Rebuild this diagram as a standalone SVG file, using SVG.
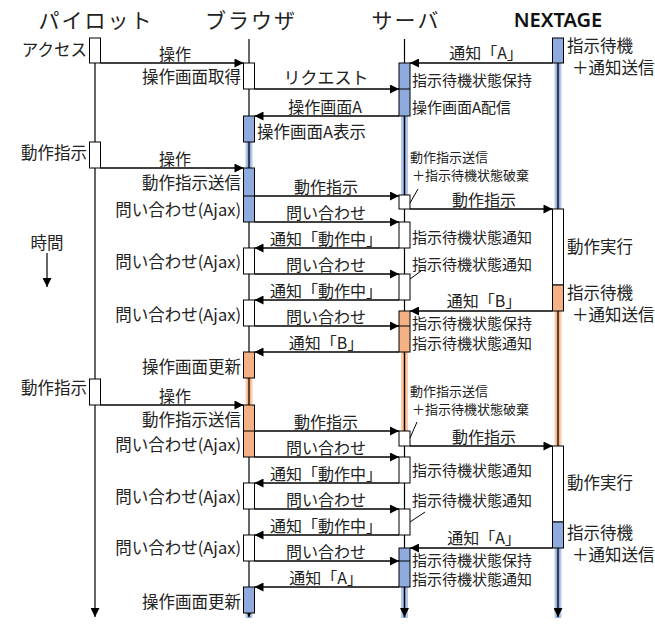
<svg xmlns="http://www.w3.org/2000/svg" width="655" height="628" viewBox="0 0 655 628">
<defs>
<marker id="ah" viewBox="0 0 10 10" refX="10" refY="5" markerWidth="10" markerHeight="9" markerUnits="userSpaceOnUse" orient="auto">
<path d="M0,0 L10,5 L0,10 z" fill="#000"/>
</marker>
<style>
text{font-family:"Noto Sans CJK JP","Noto Sans",sans-serif;fill:#222}
.t{font-size:21px;letter-spacing:2px;text-anchor:middle}
.nx{font-family:"Noto Sans","Open Sans",sans-serif;font-weight:600;font-size:20px;text-anchor:middle;fill:#111}
.l{font-size:16px}
.m{font-size:16px;text-anchor:middle}
.r{font-size:16.5px;text-anchor:end}
.s{font-size:15px}
.xs{font-size:13px}
.n{font-size:16.5px}
.life{stroke:#000;stroke-width:1.2;fill:none}
.msg{stroke:#000;stroke-width:1.3;fill:none;marker-end:url(#ah)}
.w{fill:#fff;stroke:#000;stroke-width:1}
.b{fill:#8faadc;stroke:#000;stroke-width:1}
.o{fill:#f4b183;stroke:#000;stroke-width:1}
.div{stroke:#000;stroke-width:1}
.hb1{stroke:#b4c7e7;stroke-width:7}
.hb2{stroke:#7f9bd6;stroke-width:3}
.ho1{stroke:#f8cbad;stroke-width:7}
.ho2{stroke:#f0a26e;stroke-width:3}
.thin{stroke:#000;stroke-width:1}
</style>
</defs>
<rect width="655" height="628" fill="#fff"/>

<!-- highlights on lifelines -->
<g id="highlights">
<line class="hb1" x1="249" y1="142" x2="249" y2="168"/><line class="hb2" x1="249" y1="142" x2="249" y2="168"/>
<line class="ho1" x1="249" y1="378" x2="249" y2="405"/><line class="ho2" x1="249" y1="378" x2="249" y2="405"/>
<line class="hb1" x1="249" y1="613" x2="249" y2="618"/><line class="hb2" x1="249" y1="613" x2="249" y2="618"/>
<line class="hb1" x1="404.5" y1="116" x2="404.5" y2="195"/><line class="hb2" x1="404.5" y1="116" x2="404.5" y2="195"/>
<line class="ho1" x1="404.5" y1="352" x2="404.5" y2="431"/><line class="ho2" x1="404.5" y1="352" x2="404.5" y2="431"/>
<line class="hb1" x1="404.5" y1="587" x2="404.5" y2="618"/><line class="hb2" x1="404.5" y1="587" x2="404.5" y2="618"/>
<line class="hb1" x1="558" y1="63" x2="558" y2="209"/><line class="hb2" x1="558" y1="63" x2="558" y2="209"/>
<line class="ho1" x1="558" y1="311" x2="558" y2="446"/><line class="ho2" x1="558" y1="311" x2="558" y2="446"/>
<line class="hb1" x1="558" y1="548" x2="558" y2="618"/><line class="hb2" x1="558" y1="548" x2="558" y2="618"/>
</g>

<g id="pilot">
<text class="t" x="96" y="28">パイロット</text>
<line class="life" x1="95" y1="63" x2="95" y2="617" marker-end="url(#ah)"/>
<rect class="w" x="89.5" y="38" width="11" height="25"/>
<rect class="w" x="89.5" y="142" width="11" height="26"/>
<rect class="w" x="89.5" y="379" width="11" height="26"/>
<text class="r" x="87" y="56">アクセス</text>
<text class="r" x="87" y="159">動作指示</text>
<text class="r" x="87" y="394">動作指示</text>
</g>

<g id="time">
<text class="m" x="47" y="249" style="font-size:16.5px">時間</text>
<line class="life" x1="47" y1="253" x2="47" y2="287" marker-end="url(#ah)"/>
</g>

<g id="browser">
<text class="t" x="251" y="28">ブラウザ</text>
<line class="life" x1="249" y1="39" x2="249" y2="617" marker-end="url(#ah)"/>
<rect class="w" x="243.5" y="63" width="11" height="26"/>
<rect class="b" x="243.5" y="116" width="11" height="26"/>
<rect class="b" x="243.5" y="168" width="11" height="54"/><line class="div" x1="243.5" y1="196" x2="254.5" y2="196"/>
<rect class="w" x="243.5" y="248" width="11" height="26"/>
<rect class="w" x="243.5" y="300" width="11" height="26"/>
<rect class="o" x="243.5" y="352" width="11" height="26"/>
<rect class="o" x="243.5" y="405" width="11" height="52"/><line class="div" x1="243.5" y1="431" x2="254.5" y2="431"/>
<rect class="w" x="243.5" y="483" width="11" height="26"/>
<rect class="w" x="243.5" y="535" width="11" height="26"/>
<rect class="b" x="243.5" y="587" width="11" height="26"/>
<text class="r" x="241" y="83">操作画面取得</text>
<text class="l" x="257" y="138" style="font-size:16.5px">操作画面A表示</text>
<text class="r" x="241" y="189">動作指示送信</text>
<text class="r" x="241" y="216">問い合わせ(Ajax)</text>
<text class="r" x="241" y="268">問い合わせ(Ajax)</text>
<text class="r" x="241" y="321">問い合わせ(Ajax)</text>
<text class="r" x="241" y="373">操作画面更新</text>
<text class="r" x="241" y="426">動作指示送信</text>
<text class="r" x="241" y="451">問い合わせ(Ajax)</text>
<text class="r" x="241" y="503">問い合わせ(Ajax)</text>
<text class="r" x="241" y="554">問い合わせ(Ajax)</text>
<text class="r" x="241" y="608">操作画面更新</text>
</g>

<g id="server">
<text class="t" x="406" y="28">サーバ</text>
<line class="life" x1="404.5" y1="39" x2="404.5" y2="617" marker-end="url(#ah)"/>
<rect class="b" x="399" y="63" width="11" height="53"/><line class="div" x1="399" y1="89" x2="410" y2="89"/>
<rect class="w" x="399" y="195" width="11" height="14"/>
<rect class="w" x="399" y="222" width="11" height="26"/>
<rect class="w" x="399" y="274" width="11" height="26"/>
<rect class="o" x="399" y="311" width="11" height="41"/><line class="div" x1="399" y1="326" x2="410" y2="326"/>
<rect class="w" x="399" y="431" width="11" height="15"/>
<rect class="w" x="399" y="457" width="11" height="26"/>
<rect class="w" x="399" y="509" width="11" height="26"/>
<rect class="b" x="399" y="548" width="11" height="39"/><line class="div" x1="399" y1="561" x2="410" y2="561"/>
<text class="s" x="412" y="86">指示待機状態保持</text>
<text class="s" x="412" y="113">操作画面A配信</text>
<text class="xs" x="410" y="162">動作指示送信</text>
<text class="xs" x="412" y="180">＋指示待機状態破棄</text>
<line class="thin" x1="410" y1="203" x2="418" y2="189"/>
<text class="s" x="412" y="243">指示待機状態通知</text>
<text class="s" x="412" y="270">指示待機状態通知</text>
<line class="thin" x1="410" y1="279" x2="421" y2="271"/>
<text class="s" x="412" y="329">指示待機状態保持</text>
<text class="s" x="412" y="349">指示待機状態通知</text>
<text class="xs" x="410" y="396">動作指示送信</text>
<text class="xs" x="412" y="414">＋指示待機状態破棄</text>
<line class="thin" x1="410" y1="438" x2="417" y2="422"/>
<text class="s" x="412" y="476">指示待機状態通知</text>
<text class="s" x="412" y="506">指示待機状態通知</text>
<line class="thin" x1="410" y1="522" x2="425" y2="512"/>
<text class="s" x="412" y="566">指示待機状態保持</text>
<text class="s" x="412" y="585">指示待機状態通知</text>
</g>

<g id="nextage">
<text class="nx" x="558" y="27">NEXTAGE</text>
<line class="life" x1="558" y1="63" x2="558" y2="617" marker-end="url(#ah)"/>
<rect class="b" x="552.5" y="38" width="11" height="25"/>
<rect class="w" x="552.5" y="209" width="11" height="76"/>
<rect class="o" x="552.5" y="285" width="11" height="26"/>
<rect class="w" x="552.5" y="446" width="11" height="76"/>
<rect class="b" x="552.5" y="522" width="11" height="26"/>
<text class="n" x="567" y="52">指示待機</text>
<text class="n" x="572" y="74">＋通知送信</text>
<text class="n" x="567" y="253">動作実行</text>
<text class="n" x="567" y="299">指示待機</text>
<text class="n" x="572" y="321">＋通知送信</text>
<text class="n" x="567" y="489">動作実行</text>
<text class="n" x="567" y="539">指示待機</text>
<text class="n" x="572" y="561">＋通知送信</text>
</g>

<g id="connectors">
<line class="msg" x1="100.5" y1="63" x2="243.5" y2="63"/>
<line class="msg" x1="254.5" y1="89" x2="399" y2="89"/>
<line class="msg" x1="552.5" y1="63" x2="410" y2="63"/>
<line class="msg" x1="399" y1="116" x2="254.5" y2="116"/>
<line class="msg" x1="100.5" y1="168" x2="243.5" y2="168"/>
<line class="msg" x1="254.5" y1="196" x2="399" y2="196"/>
<line class="msg" x1="410" y1="209" x2="552.5" y2="209"/>
<line class="msg" x1="254.5" y1="222" x2="399" y2="222"/>
<line class="msg" x1="399" y1="248" x2="254.5" y2="248"/>
<line class="msg" x1="254.5" y1="274" x2="399" y2="274"/>
<line class="msg" x1="399" y1="300" x2="254.5" y2="300"/>
<line class="msg" x1="552.5" y1="311" x2="410" y2="311"/>
<line class="msg" x1="254.5" y1="326" x2="399" y2="326"/>
<line class="msg" x1="399" y1="352" x2="254.5" y2="352"/>
<line class="msg" x1="100.5" y1="405" x2="243.5" y2="405"/>
<line class="msg" x1="254.5" y1="431" x2="399" y2="431"/>
<line class="msg" x1="410" y1="446" x2="552.5" y2="446"/>
<line class="msg" x1="254.5" y1="457" x2="399" y2="457"/>
<line class="msg" x1="399" y1="483" x2="254.5" y2="483"/>
<line class="msg" x1="254.5" y1="509" x2="399" y2="509"/>
<line class="msg" x1="399" y1="535" x2="254.5" y2="535"/>
<line class="msg" x1="552.5" y1="548" x2="410" y2="548"/>
<line class="msg" x1="254.5" y1="561" x2="399" y2="561"/>
<line class="msg" x1="399" y1="587" x2="254.5" y2="587"/>
</g>

<g id="connector-labels">
<text class="m" x="175" y="60">操作</text>
<text class="m" x="326" y="84" style="font-size:17px">リクエスト</text>
<text class="m" x="486" y="59">通知「A」</text>
<text class="m" x="325" y="113">操作画面A</text>
<text class="m" x="175" y="165">操作</text>
<text class="m" x="326" y="193">動作指示</text>
<text class="m" x="484" y="206">動作指示</text>
<text class="m" x="326" y="219">問い合わせ</text>
<text class="m" x="326" y="245">通知「動作中」</text>
<text class="m" x="326" y="271">問い合わせ</text>
<text class="m" x="326" y="297">通知「動作中」</text>
<text class="m" x="484" y="307">通知「B」</text>
<text class="m" x="326" y="323">問い合わせ</text>
<text class="m" x="326" y="349">通知「B」</text>
<text class="m" x="175" y="402">操作</text>
<text class="m" x="326" y="428">動作指示</text>
<text class="m" x="484" y="443">動作指示</text>
<text class="m" x="326" y="454">問い合わせ</text>
<text class="m" x="326" y="480">通知「動作中」</text>
<text class="m" x="326" y="506">問い合わせ</text>
<text class="m" x="326" y="532">通知「動作中」</text>
<text class="m" x="484" y="544">通知「A」</text>
<text class="m" x="326" y="558">問い合わせ</text>
<text class="m" x="326" y="584">通知「A」</text>
</g>
</svg>
